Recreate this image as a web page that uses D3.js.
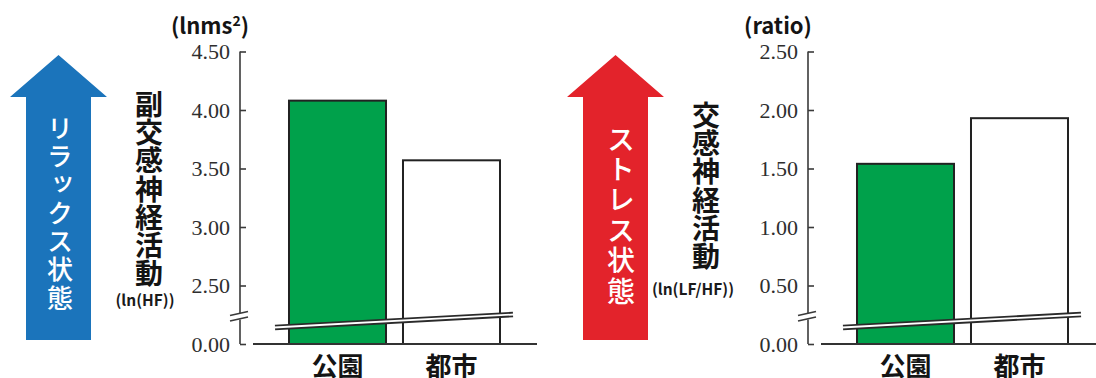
<!DOCTYPE html>
<html>
<head>
<meta charset="utf-8">
<script src="https://cdn.jsdelivr.net/npm/d3@7"></script>
<style>
  html, body { margin: 0; padding: 0; background: #fff; }
  svg { display: block; }
  .vert { writing-mode: vertical-rl; }
</style>
</head>
<body>
<svg id="chart" width="1096" height="378"></svg>
<script>
// Categories and measured values
const categories = ["公園", "都市"];
const hfValues = [4.08, 3.57];          // 副交感神経活動 ln(HF)
const lfhfValues = [1.54, 1.93];        // 交感神経活動 ln(LF/HF)
const hfTicks = [0, 2.5, 3.0, 3.5, 4.0, 4.5];
const lfhfTicks = [0, 0.5, 1.0, 1.5, 2.0, 2.5];
const barColors = ["#00a14b", "#ffffff"];

const svg = d3.select("#chart");
const SANS = "'Noto Sans CJK JP', 'Noto Sans', sans-serif";
const SERIF = "'Liberation Serif', 'DejaVu Serif', serif";

const yBottom = 344, yTop = 51.5;
const step = (yBottom - yTop) / 5;

// Big indicator arrow with a vertical caption
function drawArrow(cx, color, caption, fontSize, spacing, topY, textX) {
  const headHalf = 48.5, shaftHalf = 32.5, tip = 55, headBase = 97, bottom = 340;
  const pts = [
    [cx, tip], [cx + headHalf, headBase], [cx + shaftHalf, headBase],
    [cx + shaftHalf, bottom], [cx - shaftHalf, bottom], [cx - shaftHalf, headBase],
    [cx - headHalf, headBase]
  ];
  svg.append("path").attr("d", d3.line()(pts) + "Z").attr("fill", color);
  svg.append("text")
    .attr("class", "vert")
    .attr("x", textX).attr("y", topY)
    .attr("font-family", SANS).attr("font-size", fontSize).attr("font-weight", 500)
    .attr("letter-spacing", spacing)
    .attr("fill", "#fff")
    .text(caption);
}

function verticalLabel(cx, label, topY, sub, subX, subY) {
  svg.append("text")
    .attr("class", "vert")
    .attr("x", cx).attr("y", topY)
    .attr("font-family", SANS).attr("font-size", 28).attr("font-weight", 700)
    .attr("letter-spacing", 0.3)
    .attr("fill", "#141414")
    .text(label);
  svg.append("text")
    .attr("x", subX).attr("y", subY)
    .attr("font-family", SANS).attr("font-size", 15.5).attr("font-weight", 700)
    .attr("fill", "#1a1a1a").attr("text-anchor", "middle")
    .text(sub);
}

function drawPanel(axisX, values, ticks, unitLabel, unitSup) {
  const g = svg.append("g");
  // Broken scale: lowest tick is 0, the rest continue linearly above the break
  const y = d3.scaleLinear()
    .domain([0, ticks[1], ticks[ticks.length - 1]])
    .range([yBottom, yBottom - step, yTop]);

  const x = d3.scaleBand()
    .domain(categories)
    .range([axisX + 37.6, axisX + 271.4])
    .paddingInner(0.149)
    .paddingOuter(0.1);

  // Bars
  g.selectAll("rect.bar")
    .data(values)
    .join("rect")
    .attr("class", "bar")
    .attr("x", (d, i) => x(categories[i]))
    .attr("y", d => y(d))
    .attr("width", x.bandwidth())
    .attr("height", d => y(0) - y(d))
    .attr("fill", (d, i) => barColors[i])
    .attr("stroke", "#222")
    .attr("stroke-width", 2);

  // Baseline
  g.append("line")
    .attr("x1", axisX + 13).attr("x2", axisX + 297)
    .attr("y1", y(0)).attr("y2", y(0))
    .attr("stroke", "#333").attr("stroke-width", 2);

  // Diagonal break band across the bars
  const bx1 = axisX + 35, by1 = 327.5, bx2 = axisX + 273, by2 = 314.5;
  g.append("line").attr("x1", bx1).attr("y1", by1).attr("x2", bx2).attr("y2", by2)
    .attr("stroke", "#2a2a2a").attr("stroke-width", 5.5);
  g.append("line").attr("x1", bx1 - 1).attr("y1", by1).attr("x2", bx2 + 1).attr("y2", by2)
    .attr("stroke", "#fff").attr("stroke-width", 1.8);

  // Axis with inward ticks
  const axis = d3.axisLeft(y)
    .tickValues(ticks)
    .tickFormat(d3.format(".2f"))
    .tickSizeInner(-6)
    .tickSizeOuter(0)
    .tickPadding(10);
  const ag = g.append("g").attr("transform", `translate(${axisX},0)`).call(axis);
  ag.select(".domain").remove();
  ag.selectAll(".tick line").attr("stroke", "#3a3a3a").attr("stroke-width", 1.6);
  ag.selectAll(".tick text")
    .attr("font-family", SERIF).attr("font-size", 22)
    .attr("fill", "#2e2e2e").attr("dy", "0.34em");

  // Axis line with a gap and break marks
  g.append("line").attr("x1", axisX).attr("x2", axisX)
    .attr("y1", y(ticks[ticks.length - 1])).attr("y2", 313)
    .attr("stroke", "#3a3a3a").attr("stroke-width", 1.6);
  g.append("line").attr("x1", axisX).attr("x2", axisX)
    .attr("y1", 319.5).attr("y2", y(0))
    .attr("stroke", "#3a3a3a").attr("stroke-width", 1.6);
  [0, 5.5].forEach(off => {
    g.append("line")
      .attr("x1", axisX - 10).attr("y1", 315.5 + off)
      .attr("x2", axisX + 8).attr("y2", 311.5 + off)
      .attr("stroke", "#3a3a3a").attr("stroke-width", 1.6);
  });

  // Unit label
  const u = g.append("text")
    .attr("x", axisX - 30).attr("y", 34)
    .attr("font-family", SANS).attr("font-size", 22).attr("font-weight", 700)
    .attr("fill", "#141414").attr("text-anchor", "middle")
    .text(unitLabel);
  if (unitSup) {
    u.append("tspan").attr("font-size", 14).attr("dy", -8).text(unitSup);
    u.append("tspan").attr("dy", 8).text(")");
  }

  // Category labels
  g.selectAll("text.cat")
    .data(categories)
    .join("text")
    .attr("class", "cat")
    .attr("x", d => x(d) + x.bandwidth() / 2)
    .attr("y", 376)
    .attr("font-family", SANS).attr("font-size", 26).attr("font-weight", 700)
    .attr("fill", "#141414").attr("text-anchor", "middle")
    .text(d => d);
}

// Left: parasympathetic activity
drawArrow(58.5, "#1b74bb", "リラックス状態", 26, 2.3, 115, 60);
verticalLabel(149, "副交感神経活動", 90, "(ln(HF))", 145, 306);
drawPanel(240, hfValues, hfTicks, "(lnms", "2");

// Right: sympathetic activity
drawArrow(615.5, "#e3232b", "ストレス状態", 28, 2.4, 125, 621);
verticalLabel(706, "交感神経活動", 101, "(ln(LF/HF))", 693, 295);
drawPanel(808, lfhfValues, lfhfTicks, "(ratio)", null);
</script>
</body>
</html>
